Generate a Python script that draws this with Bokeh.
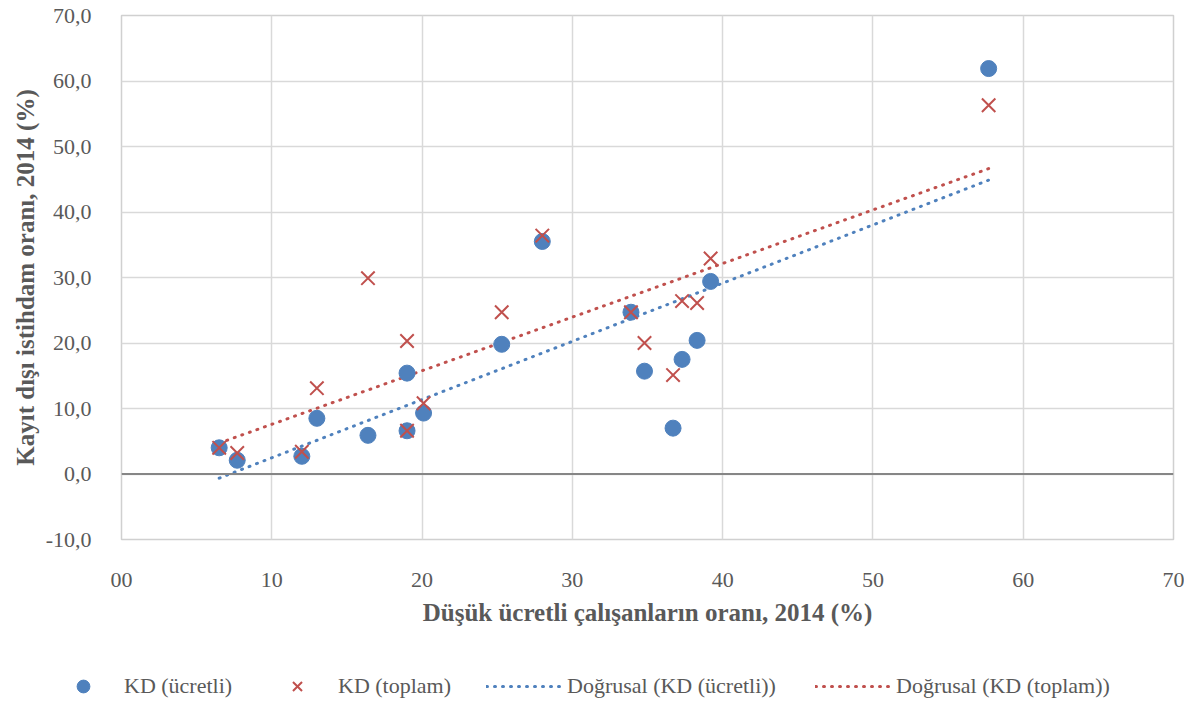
import numpy as np
from bokeh.plotting import figure
from bokeh.models import Legend, LegendItem, FixedTicker, Span, Range1d
from bokeh.layouts import column, row
from bokeh.embed import file_html
from bokeh.resources import INLINE

# Data
dusuk_ucretli = [6.5, 7.7, 12.0, 13.0, 16.4, 19.0, 19.0, 20.1, 25.3, 28.0,
                 33.9, 34.8, 36.7, 37.3, 38.3, 39.2, 57.7]
kd_ucretli = [4.0, 2.1, 2.7, 8.5, 5.9, 15.4, 6.6, 9.3, 19.8, 35.5,
              24.7, 15.7, 7.0, 17.5, 20.4, 29.4, 61.9]
kd_toplam = [4.0, 3.2, 3.4, 13.1, 29.9, 20.3, 6.6, 10.8, 24.7, 36.4,
             24.7, 20.0, 15.1, 26.4, 26.1, 32.9, 56.3]
x_ticks = [0, 10, 20, 30, 40, 50, 60, 70]
x_tick_labels = ["00", "10", "20", "30", "40", "50", "60", "70"]
y_ticks = [-10, 0, 10, 20, 30, 40, 50, 60, 70]
y_tick_labels = ["-10,0", "0,0", "10,0", "20,0", "30,0", "40,0", "50,0", "60,0", "70,0"]
legend_labels = ["KD (ücretli)", "KD (toplam)", "Doğrusal (KD (ücretli))", "Doğrusal (KD (toplam))"]

BLUE = "#4F81BD"
RED = "#C0504D"
TXT = "#595959"
FONT = "Liberation Serif"
W = 1184
LEFT = 121
RIGHT = 11

p = figure(width=W, height=636, output_backend="svg", toolbar_location=None,
           x_range=Range1d(0, 70), y_range=Range1d(-10, 70),
           min_border_left=LEFT, min_border_right=RIGHT, min_border_top=15,
           min_border_bottom=97)

p.outline_line_color = "#d0d0d0"
p.outline_line_width = 1.5

for ax, ticks, labels in ((p.xaxis[0], x_ticks, x_tick_labels), (p.yaxis[0], y_ticks, y_tick_labels)):
    ax.ticker = FixedTicker(ticks=ticks)
    ax.major_label_overrides = {t: l for t, l in zip(ticks, labels)}
    ax.axis_line_color = None
    ax.major_tick_line_color = None
    ax.minor_tick_line_color = None
    ax.major_label_text_font = FONT
    ax.major_label_text_font_size = "22px"
    ax.major_label_text_color = TXT
    ax.axis_label_text_font = FONT
    ax.axis_label_text_font_size = "25px"
    ax.axis_label_text_font_style = "bold"
    ax.axis_label_text_color = TXT

p.xaxis.axis_label = "Düşük ücretli çalışanların oranı, 2014 (%)"
p.yaxis.axis_label = "Kayıt dışı istihdam oranı, 2014 (%)"
p.xaxis.major_label_standoff = 27
p.xaxis.axis_label_standoff = 9
p.yaxis.major_label_standoff = 24
p.yaxis.axis_label_standoff = 4

p.xgrid.ticker = FixedTicker(ticks=x_ticks)
p.ygrid.ticker = FixedTicker(ticks=y_ticks)
p.grid.grid_line_color = "#d9d9d9"
p.grid.grid_line_width = 1.5

p.add_layout(Span(location=0, dimension="width", line_color="#868686", line_width=2))

# Linear trend lines (least squares fit over the data range)
xs = np.array([min(dusuk_ucretli), max(dusuk_ucretli)])
yb = np.polyval(np.polyfit(dusuk_ucretli, kd_ucretli, 1), xs)
yr = np.polyval(np.polyfit(dusuk_ucretli, kd_toplam, 1), xs)
line_kw = dict(line_width=3, line_dash="1 7", line_cap="round")
p.line(xs, yb, line_color=BLUE, **line_kw)
p.line(xs, yr, line_color=RED, **line_kw)

circ_kw = dict(marker="circle", size=16, fill_color=BLUE, line_color=BLUE)
cross_kw = dict(marker="x", size=19, line_color=RED, line_width=2)
p.scatter(dusuk_ucretli, kd_ucretli, **circ_kw)
p.scatter(dusuk_ucretli, kd_toplam, **cross_kw)

# Legend strip below the chart (its own ranges keep the series out of view)
lg = figure(width=W, height=66, output_backend="svg", toolbar_location=None,
            x_axis_type=None, y_axis_type=None,
            x_range=Range1d(-100, -99), y_range=Range1d(-100, -99),
            min_border_left=0, min_border_right=0, min_border_top=0, min_border_bottom=0)
lg.outline_line_color = None
lg.grid.visible = False
r1 = lg.scatter(dusuk_ucretli, kd_ucretli, **circ_kw)
r2 = lg.scatter(dusuk_ucretli, kd_toplam, **cross_kw)
r3 = lg.line(xs, yb, line_color=BLUE, **line_kw)
r4 = lg.line(xs, yr, line_color=RED, **line_kw)

for r, lab, xpos in zip([r1, r2, r3, r4], legend_labels, [43, 257, 486, 815]):
    leg = Legend(items=[LegendItem(label=lab, renderers=[r])], location=(xpos, 0))
    leg.padding = 0
    leg.margin = 0
    leg.glyph_width = 80
    leg.glyph_height = 32
    leg.label_standoff = 1
    leg.label_text_font = FONT
    leg.label_text_font_size = "22px"
    leg.label_text_color = TXT
    leg.background_fill_alpha = 0
    leg.border_line_color = None
    lg.add_layout(leg)

open("out.html", "w").write(file_html(column(p, row(lg), spacing=0), INLINE))
